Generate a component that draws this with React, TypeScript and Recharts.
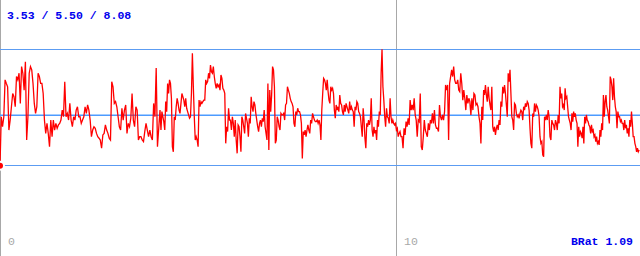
import React from "react";
import { LineChart, Line, XAxis, YAxis, ReferenceLine } from "recharts";

// stat summary shown top-left: min / mean / max
const statMin = 3.53;
const statMean = 5.5;
const statMax = 8.08;
const ratioLabel = "BRat 1.09";
const xTicks = [0, 10];
const xSpan = 16.16;

// signal values, left to right, one array per 80px slice
const seg1 = [3.53, 5.44, 5.05, 5.44, 6.88, 6.74, 6.61, 4.92, 5.31, 5.83, 6.35, 6.22, 5.83, 7.01, 6.88, 7.14, 5.96, 7.4, 7.14, 6.48, 7.59, 4.53, 5.44, 7.14, 7.4, 7.27, 6.74, 5.96, 5.57, 5.83, 7.14, 7.01, 6.74, 6.74, 6.35, 5.31, 4.79, 5.18, 4.79, 4.27, 5.31, 4.66, 5.31, 4.92, 5.18, 4.99, 5.12, 5.18, 5.31, 5.7, 5.44, 6.81, 5.44, 5.57, 5.31, 5.96, 5.31, 5.05, 5.44, 5.31, 5.7, 5.83, 5.44];
const seg2 = [5.44, 5.18, 5.31, 5.44, 5.83, 5.57, 5.9, 5.7, 5.31, 4.66, 4.92, 5.05, 4.99, 4.79, 4.66, 4.6, 4.53, 4.21, 4.73, 4.79, 5.12, 4.92, 4.79, 4.6, 4.53, 6.81, 6.61, 5.96, 6.03, 5.83, 5.44, 5.05, 4.92, 5.77, 5.31, 5.7, 5.9, 4.79, 5.18, 5.05, 5.38, 6.35, 5.31, 5.05, 5.83, 5.7, 4.53, 4.66, 4.66, 4.53, 4.47, 4.86, 5.18, 4.92, 4.66, 4.92, 4.66, 4.53, 5.96, 5.44, 7.34, 4.27, 4.99];
const seg3 = [5.7, 4.92, 5.64, 5.44, 5.25, 4.92, 6.03, 5.64, 6.74, 6.35, 6.88, 6.74, 6.16, 4.27, 4.07, 5.44, 5.31, 5.83, 6.16, 5.96, 5.7, 5.57, 5.96, 6.35, 6.22, 6.09, 5.83, 6.16, 5.77, 5.64, 5.51, 5.38, 5.44, 6.35, 7.92, 6.61, 5.44, 4.53, 4.66, 4.53, 4.27, 6.09, 5.83, 6.03, 5.96, 6.03, 6.09, 6.09, 6.88, 6.74, 6.81, 7.14, 6.94, 7.46, 7.2, 7.14, 7.4, 7.01, 6.74, 6.55, 6.74, 6.61, 6.68, 6.48, 7.07, 6.94, 6.55, 6.48, 6.35, 4.4, 5.05, 4.86, 5.77, 5.31, 5.31, 4.92, 5.44, 5.18, 4.66, 5.31, 4.53, 4.01, 5.12, 5.05];
const seg4 = [4.66, 4.07, 5.44, 5.31, 5.05, 4.79, 5.57, 5.38, 5.18, 4.66, 5.38, 5.18, 6.22, 5.83, 5.64, 6.03, 5.9, 5.57, 5.31, 5.05, 4.86, 5.18, 5.31, 5.05, 5.38, 5.25, 5.7, 5.05, 4.79, 4.53, 6.74, 4.14, 6.48, 5.64, 6.29, 7.4, 7.27, 6.61, 4.4, 4.53, 5.44, 5.31, 5.05, 4.92, 5.57, 5.51, 5.51, 5.57, 5.31, 5.9, 5.96, 6.61, 6.48, 6.35, 6.16, 6.03, 5.96, 5.83, 5.18, 5.05, 5.64, 5.51, 5.77, 5.64, 5.64, 5.51, 5.18, 3.81, 4.86, 4.73, 4.92, 4.66, 4.92, 5.12, 4.92, 4.79, 5.31, 5.18, 5.57, 5.44, 5.31, 5.25, 5.25, 5.31, 5.18, 5.31];
const seg5 = [5.12, 4.53, 5.7, 6.35, 6.94, 6.88, 6.74, 6.48, 6.88, 6.42, 6.09, 5.96, 6.61, 6.48, 6.55, 6.35, 5.7, 5.38, 5.9, 5.7, 5.83, 5.64, 6.29, 5.96, 5.9, 5.64, 5.51, 5.9, 5.64, 5.96, 5.83, 5.7, 5.57, 6.03, 5.7, 5.83, 5.7, 5.64, 5.05, 5.83, 5.7, 6.03, 5.96, 5.64, 5.57, 5.44, 5.05, 4.66, 5.77, 5.31, 4.6, 4.21, 5.18, 5.05, 5.31, 5.12, 5.31, 6.16, 4.92, 4.66, 5.05, 4.79, 4.92, 4.53, 5.31, 5.05, 5.64, 5.51, 7.14, 8.08, 6.61, 6.09, 5.44, 5.05, 5.77, 5.44, 5.38, 5.18, 6.16, 5.44, 5.18, 5.31, 5.18, 5.12, 5.18, 4.92, 4.99, 4.66, 4.79];
const seg6 = [4.86, 4.66, 4.66, 4.21, 4.99, 4.73, 5.25, 5.05, 5.38, 5.12, 6.09, 5.7, 5.9, 5.7, 6.16, 5.51, 5.31, 4.66, 5.31, 5.25, 6.35, 4.27, 4.14, 4.66, 5.31, 4.92, 4.79, 4.66, 5.18, 4.92, 5.31, 5.18, 5.57, 5.18, 5.7, 5.12, 4.99, 4.99, 4.86, 5.9, 5.44, 5.31, 5.51, 5.31, 5.64, 6.68, 6.48, 6.68, 4.53, 6.74, 7.01, 7.27, 7.01, 7.4, 6.88, 6.74, 6.74, 6.88, 6.48, 6.42, 7.14, 6.74, 6.09, 6.48, 6.16, 5.7, 6.29, 5.96, 6.16, 6.03, 5.51, 6.16, 5.7, 6.35, 6.29, 5.9, 5.96, 5.83, 5.44];
const seg7 = [5.18, 4.4, 5.83, 5.31, 6.48, 6.29, 6.68, 6.29, 6.03, 6.61, 6.16, 5.9, 5.7, 6.61, 5.05, 4.86, 5.05, 4.73, 4.99, 5.12, 4.92, 5.31, 5.12, 6.03, 5.83, 6.61, 6.35, 6.68, 6.35, 5.9, 5.44, 7.14, 6.81, 7.27, 6.35, 5.44, 5.31, 4.92, 5.96, 5.9, 5.57, 5.44, 5.51, 5.38, 5.57, 5.7, 5.64, 5.31, 5.83, 5.7, 5.96, 5.83, 6.03, 5.96, 5.7, 4.99, 4.4, 4.21, 5.57, 5.44, 5.96, 5.64, 5.9, 5.83, 5.7, 5.44, 4.66, 4.4, 4.47, 3.95, 3.88, 5.44, 5.31, 5.51, 5.31, 5.7, 5.44, 4.66, 4.53, 5.31, 5.18, 5.12, 4.92, 5.31, 5.18, 4.92, 5.51, 5.18];
const seg8 = [6.61, 6.16, 6.35, 5.83, 5.9, 5.7, 6.55, 6.16, 6.22, 5.83, 5.44, 5.31, 5.18, 4.92, 5.57, 5.25, 5.64, 5.44, 5.57, 5.31, 5.18, 4.27, 5.05, 4.66, 4.86, 4.79, 4.6, 5.05, 4.4, 5.44, 5.18, 5.51, 5.31, 5.25, 5.12, 5.05, 4.79, 5.12, 4.86, 4.92, 4.66, 4.73, 4.47, 4.66, 4.4, 4.47, 4.34, 4.92, 4.66, 5.18, 4.92, 6.29, 5.44, 6.03, 6.29, 5.83, 5.7, 5.44, 5.18, 7.01, 6.88, 6.61, 6.09, 6.94, 6.22, 5.83, 5.64, 4.99, 5.64, 5.44, 5.44, 5.25, 5.31, 5.18, 5.18, 4.92, 5.31, 4.99, 5.12, 4.79, 4.99, 4.66, 5.31, 5.05, 5.64, 5.18, 4.66, 4.66, 4.4, 4.27, 4.07, 4.21, 4.07, 4.14];

const segments = [seg1, seg2, seg3, seg4, seg5, seg6, seg7, seg8];
const segW = xSpan / segments.length;
const data = segments.flatMap((seg, s) => seg.map((v, j) => ({ x: (s + j / seg.length) * segW, v })));

const mono = "'Liberation Mono', 'DejaVu Sans Mono', monospace";
const blue = "#0000ee";
const lineBlue = "#5c9cf2";
const meanBlue = "#4d9bff";
const grey = "#a8a8a8";

const TickLabel = (props: any) => {
  const { viewBox, text } = props;
  return (
    <text x={viewBox.x + 8} y={245} fill={grey} fontFamily={mono} fontSize={11.5}>
      {text}
    </text>
  );
};

export default function App() {
  return (
    <div style={{ position: "absolute", left: 0, top: 0, width: 640, height: 256, background: "#fff" }}>
      <LineChart width={640} height={256} data={data} margin={{ top: 0, right: 0, bottom: 0, left: 0 }}>
        <XAxis dataKey="x" type="number" domain={[0, xSpan]} ticks={xTicks} hide />
        <YAxis type="number" domain={[0, 10]} hide />
        <ReferenceLine x={xTicks[0]} stroke={grey} strokeWidth={2} label={<TickLabel text={String(xTicks[0])} />} />
        <ReferenceLine x={xTicks[1]} stroke={grey} shapeRendering="crispEdges" label={<TickLabel text={String(xTicks[1])} />} />
        <ReferenceLine y={statMax} stroke={lineBlue} shapeRendering="crispEdges" />
        <ReferenceLine y={statMin} stroke={lineBlue} shapeRendering="crispEdges" />
        <ReferenceLine y={statMean} stroke={meanBlue} strokeWidth={1.6} />
        <Line
          dataKey="v"
          type="linear"
          stroke="#ff0000"
          strokeWidth={1.3}
          strokeLinejoin="miter"
          dot={false}
          isAnimationActive={false}
        />
        <text x={7} y={19} fill={blue} fontFamily={mono} fontSize={11.5} fontWeight="bold">
          {`${statMin.toFixed(2)} / ${statMean.toFixed(2)} / ${statMax.toFixed(2)}`}
        </text>
        <text x={633} y={245} fill={blue} fontFamily={mono} fontSize={11.5} fontWeight="bold" textAnchor="end">
          {ratioLabel}
        </text>
      </LineChart>
    </div>
  );
}
